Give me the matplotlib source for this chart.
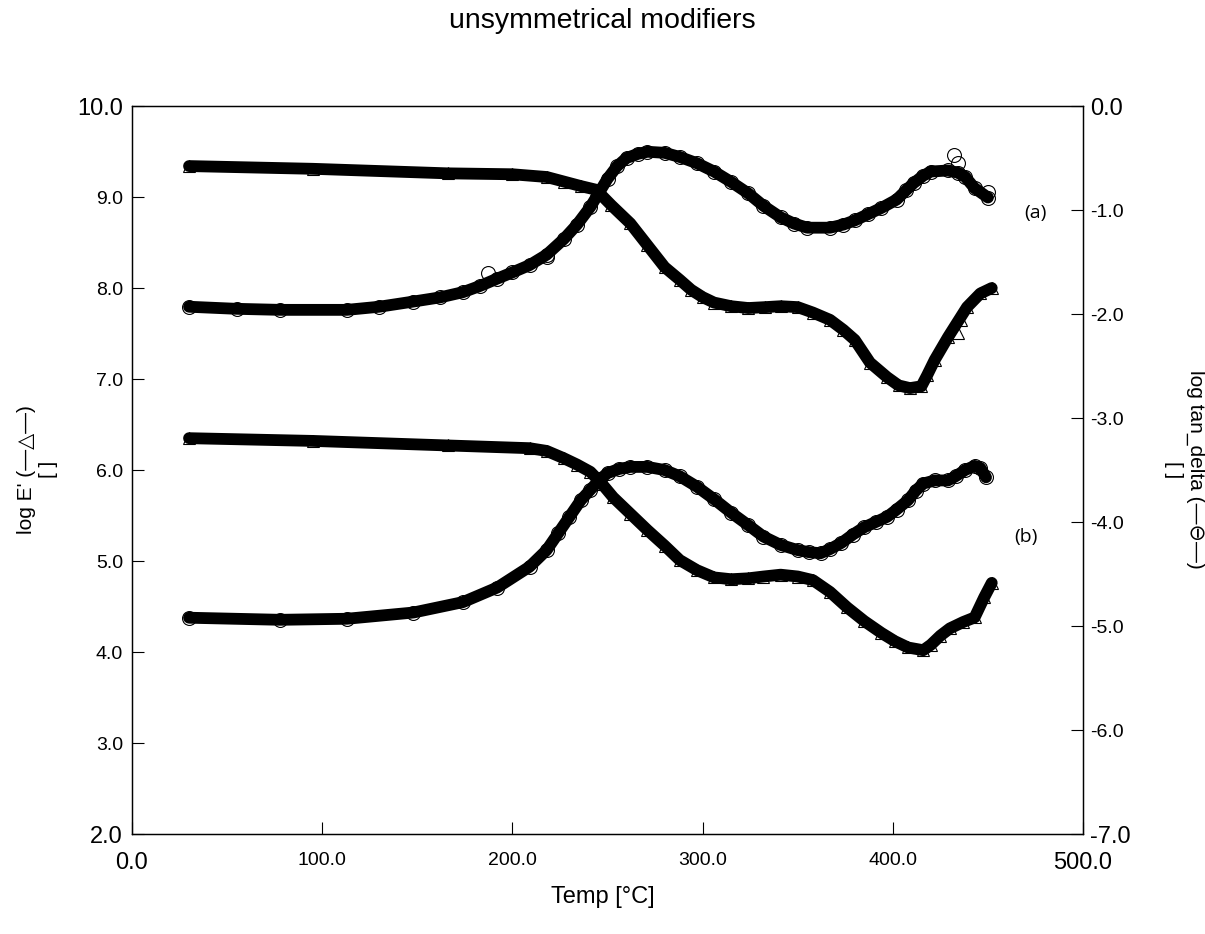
import matplotlib
matplotlib.use("Agg")
import matplotlib.pyplot as plt

plt.rcParams['font.family'] = ['Liberation Sans', 'DejaVu Sans']

# sample (a): log E' (left axis)
temp_a_e = [30, 95, 166, 200, 218, 227, 236, 244, 252, 262, 271, 280, 288, 294, 300, 306,
            315, 324, 333, 341, 350, 358, 367, 374, 380, 388, 397, 403, 409, 415, 418, 422,
            429, 439, 446, 452]
loge_a = [9.34, 9.31, 9.26, 9.25, 9.22, 9.17, 9.12, 9.08, 8.91, 8.71, 8.47, 8.23, 8.09, 7.98,
          7.90, 7.84, 7.80, 7.78, 7.79, 7.80, 7.79, 7.73, 7.65, 7.54, 7.43, 7.18, 7.02, 6.93,
          6.90, 6.92, 7.04, 7.21, 7.46, 7.79, 7.94, 8.00]
# sample (a): log tan_delta (right axis)
temp_a_t = [30, 55, 78, 113, 130, 148, 162, 174, 183, 192, 200, 209, 218, 227, 234, 241,
            245, 250, 255, 260, 266, 271, 280, 288, 297, 306, 315, 324, 332, 341, 348, 355,
            367, 374, 380, 387, 394, 402, 407, 411, 416, 420, 429, 434, 438, 443, 450]
logtan_a = [-1.93, -1.95, -1.96, -1.96, -1.93, -1.88, -1.84, -1.79, -1.73, -1.66, -1.60,
            -1.53, -1.43, -1.28, -1.14, -0.97, -0.85, -0.70, -0.58, -0.50, -0.46, -0.44,
            -0.45, -0.49, -0.55, -0.63, -0.73, -0.84, -0.96, -1.07, -1.13, -1.17, -1.17,
            -1.14, -1.10, -1.04, -0.98, -0.90, -0.81, -0.74, -0.67, -0.63, -0.62, -0.64,
            -0.68, -0.79, -0.88]
# stray markers off the band
stray_a_e_temp = [434, 436]
stray_a_e_val = [7.51, 7.65]
stray_a_t_temp = [187, 218, 432, 434, 450]
stray_a_t_val = [-1.61, -1.45, -0.47, -0.55, -0.83]

# sample (b)
temp_b_e = [30, 95, 166, 209, 218, 227, 234, 241, 247, 253, 262, 271, 280, 288, 297, 306,
            315, 324, 332, 341, 350, 358, 367, 376, 385, 394, 401, 408, 416, 420, 425, 430,
            437, 443, 448, 452]
loge_b = [6.35, 6.32, 6.27, 6.24, 6.21, 6.13, 6.06, 5.98, 5.85, 5.70, 5.52, 5.34, 5.17, 5.01,
          4.90, 4.82, 4.80, 4.81, 4.83, 4.85, 4.83, 4.79, 4.66, 4.49, 4.34, 4.21, 4.12, 4.05,
          4.02, 4.08, 4.18, 4.26, 4.33, 4.38, 4.60, 4.76]
temp_b_t = [30, 78, 113, 148, 174, 192, 209, 218, 224, 230, 236, 241, 246, 250, 256, 262,
            271, 280, 288, 297, 306, 315, 324, 332, 341, 350, 356, 362, 367, 373, 379, 385,
            391, 397, 402, 408, 412, 416, 422, 429, 433, 438, 443, 446, 449]
logtan_b = [-4.92, -4.94, -4.93, -4.87, -4.77, -4.63, -4.43, -4.27, -4.11, -3.95, -3.79,
            -3.69, -3.59, -3.53, -3.49, -3.47, -3.47, -3.50, -3.56, -3.66, -3.78, -3.91,
            -4.03, -4.14, -4.22, -4.27, -4.29, -4.30, -4.26, -4.20, -4.12, -4.05, -4.00,
            -3.95, -3.88, -3.79, -3.70, -3.63, -3.60, -3.60, -3.56, -3.50, -3.46, -3.48, -3.57]

x_ticks = [0, 100, 200, 300, 400, 500]
left_ticks = [2, 3, 4, 5, 6, 7, 8, 9, 10]
right_ticks = [-7, -6, -5, -4, -3, -2, -1, 0]

fig = plt.figure(figsize=(12.05, 9.34), dpi=100)
ax = fig.add_axes([0.1095, 0.107, 0.7893, 0.7795])
ax2 = ax.twinx()

band = dict(color='black', lw=8.5, solid_capstyle='round', solid_joinstyle='round', zorder=2)
tri = dict(ls='none', marker='^', ms=9, mfc='none', mec='black', mew=0.8, zorder=3)
circ = dict(ls='none', marker='o', ms=10, mfc='none', mec='black', mew=0.8, zorder=3)

ax.plot(temp_a_e, loge_a, **band)
ax.plot(temp_a_e, loge_a, **tri)
ax.plot(stray_a_e_temp, stray_a_e_val, **tri)
ax.plot(temp_b_e, loge_b, **band)
ax.plot(temp_b_e, loge_b, **tri)
ax2.plot(temp_a_t, logtan_a, **band)
ax2.plot(temp_a_t, logtan_a, **circ)
ax2.plot(stray_a_t_temp, stray_a_t_val, **circ)
ax2.plot(temp_b_t, logtan_b, **band)
ax2.plot(temp_b_t, logtan_b, **circ)

ax.set_xlim(0, 500)
ax.set_ylim(2, 10)
ax2.set_ylim(-7, 0)

ax.set_xticks(x_ticks)
ax.set_xticklabels([f"{v:.1f}" for v in x_ticks])
ax.set_yticks(left_ticks)
ax.set_yticklabels([f"{v:.1f}" for v in left_ticks])
ax2.set_yticks(right_ticks)
ax2.set_yticklabels([f"{v:.1f}" for v in right_ticks])

ax.tick_params(axis='x', direction='in', length=8.6, width=0.8, pad=13, labelsize=14)
ax.tick_params(axis='y', direction='in', length=8.6, width=0.8, pad=6.5, labelsize=14)
ax2.tick_params(axis='y', direction='in', length=8.6, width=0.8, pad=5, labelsize=14)

# end labels are drawn larger
for labels in (ax.get_xticklabels(), ax.get_yticklabels(), ax2.get_yticklabels()):
    labels[0].set_fontsize(17)
    labels[-1].set_fontsize(17)

for a in (ax, ax2):
    for sp in a.spines.values():
        sp.set_linewidth(0.9)

ax.text(475, 8.82, "(a)", fontsize=14, family=['Open Sans'], va='center', ha='center')
ax.text(470, 5.26, "(b)", fontsize=14, family=['Open Sans'], va='center', ha='center')

fig.text(0.5, 0.977, "unsymmetrical modifiers", ha='center', va='center', fontsize=20.5)
fig.text(0.5, 0.04, "Temp [°C]", ha='center', va='center', fontsize=17)
fig.text(0.031, 0.497, "log E' (—△—)\n[ ]", rotation=90, ha='center', va='center',
         fontsize=15, multialignment='center')
fig.text(0.983, 0.497, "log tan_delta (—⊖—)\n[ ]", rotation=270, ha='center', va='center',
         fontsize=15, multialignment='center')

fig.savefig("out.png", dpi=100)
